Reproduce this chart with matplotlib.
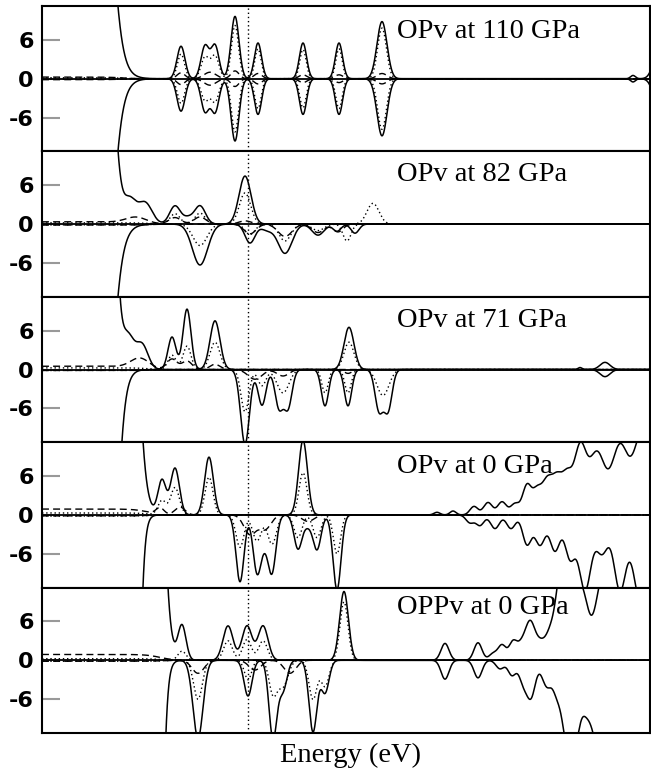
import numpy as np
import matplotlib.pyplot as plt

# panel titles, top to bottom
titles = ["OPv at 110 GPa", "OPv at 82 GPa", "OPv at 71 GPa", "OPv at 0 GPa", "OPPv at 0 GPa"]
title_y = [0.78, 0.794, 0.794, 0.787, 0.82]
yticks = [-6, 0, 6]
ytick_labels = ["-6", "0", "6"]
e_min, e_max = -10.3, 20.1
dos_lim = 11.2

# steep low-energy edge of the total DOS (edge energy, edge width), spin up / spin down
edge_up = [(-6.9, 0.27), (-6.8, 0.2), (-6.65, 0.15), (-5.54, 0.2), (-4.25, 0.17)]
edge_dn = [(-6.9, 0.27), (-6.9, 0.27), (-6.6, 0.2), (-5.43, 0.12), (-4.28, 0.12)]
# low flat level of the partial DOS below the edge
low_dash = [0.25, 0.35, 0.5, 0.9, 0.9]
low_dot = [0.15, 0.2, 0.25, 0.3, 0.25]
low_edge = [-6.3, -5.0, -5.0, -5.0, -4.4]

# peaks: (energy in eV, height, width in eV)
# --- OPv 110 GPa (same for both spins)
solid_110 = [(-3.35, 5.0, .2), (-2.15, 5.0, .2), (-1.65, 5.1, .2), (-0.65, 9.6, .2), (0.5, 5.5, .18),
             (2.75, 5.5, .18), (4.55, 5.5, .18), (6.7, 8.8, .25), (19.25, 0.5, .12), (20.7, 8.0, .3)]
dot_110 = [(-3.35, 3.8, .18), (-2.15, 3.3, .2), (-1.65, 3.5, .2), (-0.65, 8.2, .18), (0.5, 4.6, .16),
           (2.75, 4.5, .16), (4.55, 4.6, .16), (6.7, 7.8, .22)]
dash_110 = [(-3.35, 0.9, .2), (-1.9, 1.0, .3), (-0.65, 1.2, .2), (0.5, 0.8, .2), (2.75, 0.6, .2),
            (4.55, 0.6, .2), (6.7, 0.8, .25)]

# --- OPv 82 GPa
solid_up_82 = [(-5.9, 3.3, .3), (-5.15, 3.3, .35), (-3.65, 2.8, .27), (-3.0, 0.9, .25), (-2.4, 2.8, .27),
               (-0.15, 7.4, .3)]
solid_dn_82 = [(-2.4, 6.3, .38), (0.1, 2.9, .25), (0.95, 0.9, .3), (1.85, 4.5, .35), (3.5, 1.7, .3),
               (4.45, 1.1, .2), (5.35, 1.4, .2)]
dot_up_82 = [(-3.65, 1.6, .25), (-2.4, 1.7, .25), (-0.15, 4.8, .28), (6.25, 3.2, .3)]
dot_dn_82 = [(-2.4, 3.3, .35), (0.1, 1.6, .25), (1.85, 2.6, .3), (3.5, 1.0, .3), (4.95, 2.6, .2)]
dash_up_82 = [(-5.6, 0.8, .5), (-3.65, 1.0, .3), (-2.4, 1.1, .3), (-0.15, 0.5, .3)]
dash_dn_82 = [(0.1, 1.5, .3), (1.85, 1.9, .35), (3.5, 1.3, .3), (4.5, 1.2, .25)]

# --- OPv 71 GPa
solid_up_71 = [(-6.0, 4.8, .3), (-5.3, 3.8, .3), (-3.8, 5.0, .2), (-3.05, 9.3, .2), (-1.65, 7.5, .25),
               (5.05, 6.5, .25), (16.6, 0.3, .1), (17.85, 1.1, .25)]
solid_dn_71 = [(-0.15, 11.5, .22), (0.7, 5.5, .2), (1.55, 5.8, .2), (2.0, 5.8, .2), (3.85, 5.6, .18),
               (5.0, 5.6, .18), (6.55, 6.2, .2), (7.0, 6.2, .2), (17.85, 1.1, .25)]
dot_up_71 = [(-3.8, 2.2, .2), (-3.05, 3.6, .2), (-1.65, 4.2, .25), (5.05, 4.2, .25)]
dot_dn_71 = [(-0.15, 6.5, .2), (0.7, 2.5, .2), (1.75, 3.6, .3), (3.85, 3.6, .16), (5.0, 3.6, .16),
             (6.75, 4.0, .3)]
dash_up_71 = [(-5.4, 1.4, .45), (-3.8, 1.6, .25), (-3.05, 1.3, .25), (-1.65, 0.8, .25)]
dash_dn_71 = [(0.35, 1.5, .35), (1.75, 1.0, .3), (5.0, 0.6, .2)]

# --- OPv 0 GPa
solid_up_0 = [(-4.3, 5.3, .2), (-3.65, 7.2, .22), (-1.95, 8.9, .22), (2.75, 11.5, .22), (9.45, 0.4, .15),
              (10.25, 0.6, .15), (11.3, 1.3, .2), (12.0, 1.9, .22), (12.7, 2.0, .22), (13.35, 1.7, .22),
              (13.95, 4.5, .22), (14.45, 3.5, .22), (14.95, 5.0, .25), (15.45, 5.2, .25), (15.95, 5.5, .25),
              (16.6, 10.0, .3), (17.45, 9.5, .4), (18.6, 10.5, .4), (19.65, 10.5, .4), (20.6, 14.0, .5)]
solid_dn_0 = [(-0.4, 10.3, .2), (0.45, 8.6, .2), (0.82, 3.0, .2), (1.2, 8.6, .2), (2.5, 5.2, .2),
              (2.98, 1.5, .2), (3.45, 5.3, .2), (4.45, 11.5, .2), (11.1, 1.2, .2), (11.6, 1.6, .2),
              (12.35, 2.1, .22), (13.15, 2.1, .22), (13.95, 4.5, .22), (14.6, 4.6, .25), (15.35, 5.5, .25),
              (16.1, 6.5, .25), (16.85, 11.5, .3), (17.7, 5.8, .3), (18.6, 11.5, .3), (19.6, 12.0, .35),
              (20.6, 12.0, .5)]
dot_up_0 = [(-4.3, 2.2, .2), (-3.65, 4.2, .22), (-1.95, 5.8, .2), (2.75, 6.5, .2)]
dot_dn_0 = [(-0.4, 5.0, .2), (0.45, 4.0, .22), (1.2, 4.5, .22), (2.5, 3.5, .2), (3.45, 3.5, .2),
            (4.45, 6.0, .18)]
dash_up_0 = [(-4.4, 1.0, .2), (-3.4, 1.2, .25)]
dash_dn_0 = [(0.1, 3.0, .3), (0.85, 2.2, .3), (3.0, 1.0, .3)]

# --- OPPv 0 GPa
solid_up_pp = [(-3.3, 5.3, .2), (-1.0, 5.3, .25), (-0.05, 5.3, .25), (0.75, 5.3, .25), (4.8, 10.6, .22),
               (9.85, 2.6, .2), (11.5, 2.7, .2), (12.25, 1.0, .2), (12.7, 2.3, .2), (13.25, 2.8, .2),
               (13.65, 1.8, .2), (14.1, 5.8, .25), (14.65, 2.5, .25), (15.1, 3.0, .22), (15.7, 14.0, .3),
               (16.25, 14.0, .3), (16.8, 7.0, .25), (17.85, 14.0, .45), (19.1, 15.0, .5), (20.35, 15.0, .5)]
solid_dn_pp = [(-2.5, 12.0, .25), (0.0, 5.5, .2), (1.25, 12.0, .2), (1.75, 4.5, .2), (3.25, 11.0, .2),
               (3.85, 5.0, .2), (9.85, 2.9, .2), (11.5, 2.7, .2), (12.6, 1.3, .2), (13.2, 2.3, .2),
               (13.75, 3.0, .2), (14.15, 5.5, .22), (14.95, 4.0, .25), (15.45, 4.0, .2), (15.95, 12.0, .25),
               (16.4, 9.5, .22), (16.85, 4.0, .22), (17.6, 14.0, .45), (18.85, 14.0, .5), (20.1, 14.0, .5)]
dot_up_pp = [(-3.3, 1.4, .2), (-1.0, 3.0, .22), (-0.05, 3.2, .22), (0.75, 3.0, .22), (4.8, 9.0, .2)]
dot_dn_pp = [(-2.5, 6.0, .22), (0.0, 3.0, .18), (1.25, 5.0, .2), (1.75, 4.0, .25), (3.25, 6.0, .2),
             (3.85, 4.0, .2)]
dash_up_pp = []
dash_dn_pp = [(-2.5, 2.0, .3), (0.35, 1.5, .3), (2.1, 2.0, .3)]

solid_up = [solid_110, solid_up_82, solid_up_71, solid_up_0, solid_up_pp]
solid_dn = [solid_110, solid_dn_82, solid_dn_71, solid_dn_0, solid_dn_pp]
dot_up = [dot_110, dot_up_82, dot_up_71, dot_up_0, dot_up_pp]
dot_dn = [dot_110, dot_dn_82, dot_dn_71, dot_dn_0, dot_dn_pp]
dash_up = [dash_110, dash_up_82, dash_up_71, dash_up_0, dash_up_pp]
dash_dn = [dash_110, dash_dn_82, dash_dn_71, dash_dn_0, dash_dn_pp]


def broaden(E, peaks):
    y = np.zeros_like(E)
    for c, h, s in peaks:
        y += h * np.exp(-(E - c) ** 2 / (2 * s * s))
    return y


def step(E, edge, width, level):
    return level / (1 + np.exp((E - edge) / width))


E = np.linspace(e_min, e_max, 3000)

fig, axes = plt.subplots(5, 1, figsize=(6.51, 7.69), dpi=100, sharex=True)
fig.subplots_adjust(left=42 / 651, right=650 / 651, top=1 - 6 / 769, bottom=1 - 733 / 769, hspace=0)

for i, ax in enumerate(axes):
    up = broaden(E, solid_up[i]) + step(E, *edge_up[i], 60)
    dn = broaden(E, solid_dn[i]) + step(E, *edge_dn[i], 60)
    dtu = broaden(E, dot_up[i]) + step(E, low_edge[i], 0.3, low_dot[i])
    dtd = broaden(E, dot_dn[i]) + step(E, low_edge[i], 0.3, low_dot[i] * 0.6)
    dsu = broaden(E, dash_up[i]) + step(E, low_edge[i], 0.35, low_dash[i])
    dsd = broaden(E, dash_dn[i]) + step(E, low_edge[i], 0.35, 0.15)

    ax.plot(E, dsu, color='black', lw=1.0, dashes=(5, 3))
    ax.plot(E, -dsd, color='black', lw=1.0, dashes=(5, 3))
    ax.plot(E, dtu, color='black', lw=1.0, dashes=(1, 2))
    ax.plot(E, -dtd, color='black', lw=1.0, dashes=(1, 2))
    ax.plot(E, up, color='black', lw=1.1)
    ax.plot(E, -dn, color='black', lw=1.1)
    ax.axhline(0, color='black', lw=1.3)
    ax.axvline(0, color='black', lw=1.0, linestyle=(0, (1, 2)))

    ax.set_xlim(e_min, e_max)
    ax.set_ylim(-dos_lim, dos_lim)
    ax.set_yticks(yticks)
    ax.set_yticklabels(ytick_labels, fontsize=16, fontweight='bold', family='DejaVu Sans')
    ax.tick_params(axis='y', direction='in', length=13, width=1.5, color='0.6', pad=6)
    ax.tick_params(axis='x', bottom=False, labelbottom=False)
    for sp in ax.spines.values():
        sp.set_linewidth(1.5)
    ax.text(0.584, title_y[i], titles[i], transform=ax.transAxes, fontsize=20.5,
            family='Liberation Serif', va='baseline')

fig.text(351 / 651, 1 - 762 / 769, 'Energy (eV)', ha='center', va='baseline', fontsize=20.5,
         family='Liberation Serif')

plt.savefig('out.png', dpi=100)
